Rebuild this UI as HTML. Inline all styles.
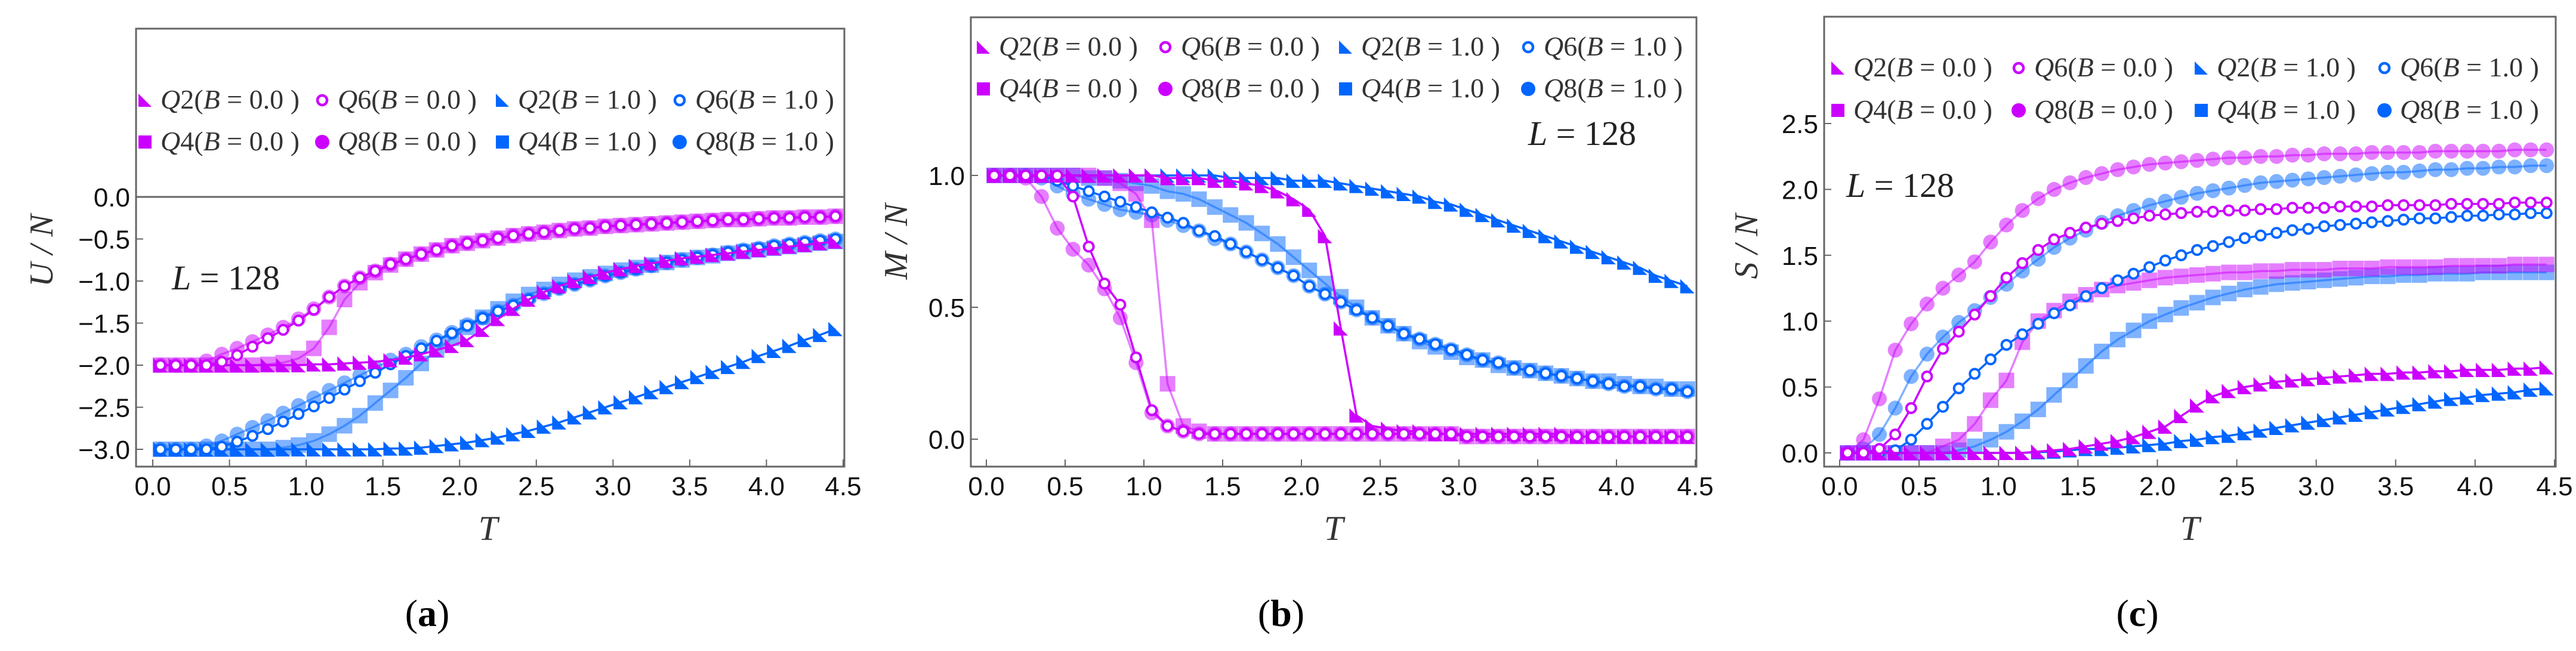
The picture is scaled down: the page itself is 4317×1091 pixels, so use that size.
<!DOCTYPE html>
<html><head><meta charset="utf-8">
<style>
html,body{margin:0;padding:0;background:#fff;}
svg{display:block;}
text{font-family:"Liberation Serif",serif;}
.tick{font-family:"Liberation Sans",sans-serif;font-size:44px;fill:#111;}
</style></head>
<body>
<svg id="fig" width="4317" height="1091" viewBox="0 0 4317 1091" xmlns="http://www.w3.org/2000/svg"></svg>
<script>
// Temperature grid
const T = [0.05,0.15,0.25,0.35,0.45,0.55,0.65,0.75,0.85,0.95,1.05,1.15,1.25,1.35,1.45,1.55,1.65,1.75,1.85,1.95,2.05,2.15,2.25,2.35,2.45,2.55,2.65,2.75,2.85,2.95,3.05,3.15,3.25,3.35,3.45,3.55,3.65,3.75,3.85,3.95,4.05,4.15,4.25,4.35,4.45];
const xTicks = [0.0,0.5,1.0,1.5,2.0,2.5,3.0,3.5,4.0,4.5];
const xTickLabels = ["0.0","0.5","1.0","1.5","2.0","2.5","3.0","3.5","4.0","4.5"];
// Panel (a) U/N
const aYTicks = [0.0,-0.5,-1.0,-1.5,-2.0,-2.5,-3.0];
const aYTickLabels = ["0.0","-0.5","-1.0","-1.5","-2.0","-2.5","-3.0"];
const aQ2B0 = [-2.00,-2.00,-2.00,-2.00,-2.00,-2.00,-2.00,-2.00,-2.00,-2.00,-1.99,-1.99,-1.98,-1.97,-1.96,-1.94,-1.91,-1.87,-1.82,-1.77,-1.70,-1.58,-1.45,-1.33,-1.22,-1.13,-1.06,-1.00,-0.95,-0.90,-0.86,-0.82,-0.79,-0.76,-0.73,-0.71,-0.69,-0.67,-0.65,-0.63,-0.61,-0.59,-0.57,-0.55,-0.53];
const aQ4B0 = [-2.00,-2.00,-2.00,-2.00,-2.00,-2.00,-2.00,-1.99,-1.97,-1.92,-1.80,-1.55,-1.22,-1.02,-0.90,-0.81,-0.74,-0.68,-0.63,-0.58,-0.55,-0.52,-0.49,-0.46,-0.44,-0.42,-0.40,-0.38,-0.37,-0.35,-0.34,-0.33,-0.32,-0.31,-0.30,-0.29,-0.28,-0.27,-0.27,-0.26,-0.25,-0.25,-0.24,-0.24,-0.23];
const aQ6B0 = [-2.00,-2.00,-2.00,-2.00,-1.96,-1.88,-1.78,-1.68,-1.58,-1.47,-1.34,-1.19,-1.06,-0.96,-0.88,-0.80,-0.74,-0.68,-0.63,-0.58,-0.55,-0.52,-0.49,-0.46,-0.44,-0.42,-0.40,-0.38,-0.37,-0.35,-0.34,-0.33,-0.32,-0.31,-0.30,-0.29,-0.28,-0.27,-0.27,-0.26,-0.25,-0.25,-0.24,-0.24,-0.23];
const aQ8B0 = [-2.00,-2.00,-2.00,-1.95,-1.87,-1.80,-1.72,-1.64,-1.55,-1.45,-1.33,-1.19,-1.06,-0.96,-0.88,-0.80,-0.74,-0.68,-0.63,-0.58,-0.55,-0.52,-0.49,-0.46,-0.44,-0.42,-0.40,-0.38,-0.37,-0.35,-0.34,-0.33,-0.32,-0.31,-0.30,-0.29,-0.28,-0.27,-0.27,-0.26,-0.25,-0.25,-0.24,-0.24,-0.23];
const aQ2B1 = [-3.00,-3.00,-3.00,-3.00,-3.00,-3.00,-3.00,-3.00,-3.00,-3.00,-3.00,-3.00,-3.00,-3.00,-3.00,-2.99,-2.99,-2.98,-2.96,-2.94,-2.92,-2.89,-2.86,-2.82,-2.78,-2.73,-2.68,-2.62,-2.56,-2.50,-2.44,-2.38,-2.32,-2.26,-2.20,-2.14,-2.08,-2.02,-1.96,-1.89,-1.83,-1.77,-1.70,-1.64,-1.57];
const aQ4B1 = [-3.00,-3.00,-3.00,-3.00,-3.00,-3.00,-3.00,-3.00,-2.98,-2.95,-2.90,-2.82,-2.72,-2.60,-2.45,-2.30,-2.15,-1.98,-1.82,-1.68,-1.55,-1.43,-1.33,-1.24,-1.16,-1.10,-1.04,-0.99,-0.95,-0.91,-0.87,-0.84,-0.81,-0.78,-0.75,-0.72,-0.70,-0.67,-0.65,-0.63,-0.61,-0.59,-0.57,-0.55,-0.53];
const aQ6B1 = [-3.00,-3.00,-3.00,-3.00,-2.97,-2.91,-2.84,-2.76,-2.67,-2.58,-2.49,-2.39,-2.29,-2.19,-2.09,-1.99,-1.89,-1.80,-1.71,-1.62,-1.53,-1.44,-1.36,-1.29,-1.22,-1.15,-1.09,-1.04,-0.99,-0.94,-0.90,-0.86,-0.82,-0.78,-0.75,-0.72,-0.69,-0.66,-0.63,-0.61,-0.58,-0.56,-0.54,-0.52,-0.50];
const aQ8B1 = [-3.00,-3.00,-3.00,-2.96,-2.90,-2.82,-2.74,-2.66,-2.57,-2.48,-2.39,-2.30,-2.21,-2.12,-2.03,-1.94,-1.87,-1.78,-1.70,-1.61,-1.52,-1.44,-1.36,-1.29,-1.22,-1.15,-1.09,-1.04,-0.99,-0.94,-0.90,-0.86,-0.82,-0.78,-0.75,-0.72,-0.69,-0.66,-0.63,-0.61,-0.58,-0.56,-0.54,-0.52,-0.50];
// Panel (b) M/N
const bYTicks = [0.0,0.5,1.0];
const bYTickLabels = ["0.0","0.5","1.0"];
const bQ2B0 = [1.00,1.00,1.00,1.00,1.00,1.00,1.00,1.00,1.00,1.00,1.00,0.99,0.99,0.99,0.98,0.98,0.97,0.96,0.94,0.91,0.87,0.77,0.42,0.09,0.05,0.04,0.03,0.03,0.02,0.02,0.02,0.02,0.02,0.02,0.02,0.02,0.02,0.01,0.01,0.01,0.01,0.01,0.01,0.01,0.01];
const bQ4B0 = [1.00,1.00,1.00,1.00,1.00,1.00,1.00,0.99,0.97,0.93,0.83,0.21,0.05,0.03,0.02,0.02,0.02,0.02,0.02,0.02,0.02,0.02,0.02,0.02,0.02,0.02,0.02,0.02,0.02,0.02,0.01,0.01,0.01,0.01,0.01,0.01,0.01,0.01,0.01,0.01,0.01,0.01,0.01,0.01,0.01];
const bQ6B0 = [1.00,1.00,1.00,1.00,1.00,0.92,0.73,0.59,0.51,0.31,0.11,0.05,0.03,0.02,0.02,0.02,0.02,0.02,0.02,0.02,0.02,0.02,0.02,0.02,0.02,0.02,0.02,0.02,0.02,0.02,0.01,0.01,0.01,0.01,0.01,0.01,0.01,0.01,0.01,0.01,0.01,0.01,0.01,0.01,0.01];
const bQ8B0 = [1.00,1.00,0.99,0.92,0.80,0.72,0.66,0.57,0.46,0.29,0.10,0.05,0.03,0.02,0.02,0.02,0.02,0.02,0.02,0.02,0.02,0.02,0.02,0.02,0.02,0.02,0.02,0.02,0.02,0.02,0.01,0.01,0.01,0.01,0.01,0.01,0.01,0.01,0.01,0.01,0.01,0.01,0.01,0.01,0.01];
const bQ2B1 = [1.00,1.00,1.00,1.00,1.00,1.00,1.00,1.00,1.00,1.00,1.00,1.00,1.00,1.00,1.00,0.99,0.99,0.99,0.99,0.98,0.98,0.98,0.97,0.96,0.95,0.94,0.93,0.92,0.90,0.89,0.87,0.85,0.83,0.81,0.79,0.77,0.75,0.73,0.71,0.69,0.67,0.65,0.62,0.60,0.58];
const bQ4B1 = [1.00,1.00,1.00,1.00,1.00,1.00,0.99,0.99,0.98,0.97,0.96,0.94,0.93,0.91,0.88,0.85,0.82,0.78,0.74,0.69,0.64,0.59,0.54,0.50,0.46,0.43,0.40,0.37,0.35,0.33,0.31,0.30,0.28,0.27,0.26,0.25,0.24,0.23,0.22,0.22,0.21,0.20,0.20,0.19,0.19];
const bQ6B1 = [1.00,1.00,1.00,1.00,0.98,0.96,0.94,0.92,0.90,0.88,0.86,0.84,0.82,0.79,0.77,0.74,0.71,0.68,0.65,0.62,0.58,0.55,0.52,0.49,0.46,0.43,0.40,0.38,0.36,0.34,0.32,0.30,0.29,0.27,0.26,0.25,0.24,0.23,0.22,0.21,0.20,0.20,0.19,0.19,0.18];
const bQ8B1 = [1.00,1.00,1.00,0.99,0.96,0.93,0.91,0.89,0.87,0.86,0.85,0.83,0.81,0.79,0.76,0.74,0.71,0.68,0.65,0.62,0.58,0.55,0.52,0.49,0.46,0.43,0.40,0.38,0.36,0.34,0.32,0.30,0.29,0.27,0.26,0.25,0.24,0.23,0.22,0.21,0.20,0.20,0.19,0.19,0.18];
// Panel (c) S/N
const cYTicks = [0.0,0.5,1.0,1.5,2.0,2.5];
const cYTickLabels = ["0.0","0.5","1.0","1.5","2.0","2.5"];
const cQ2B0 = [0,0,0,0,0,0,0,0,0,0,0,0,0.01,0.02,0.03,0.05,0.07,0.09,0.12,0.16,0.20,0.28,0.36,0.43,0.47,0.50,0.52,0.54,0.55,0.56,0.57,0.58,0.59,0.60,0.60,0.61,0.61,0.62,0.62,0.63,0.63,0.63,0.64,0.64,0.65];
const cQ4B0 = [0,0,0,0,0,0,0.05,0.10,0.22,0.40,0.55,0.84,1.00,1.08,1.15,1.20,1.24,1.27,1.29,1.31,1.33,1.34,1.35,1.36,1.37,1.37,1.38,1.38,1.39,1.39,1.39,1.40,1.40,1.40,1.41,1.41,1.41,1.41,1.42,1.42,1.42,1.42,1.43,1.43,1.43];
const cQ6B0 = [0,0,0.03,0.14,0.34,0.58,0.79,0.92,1.05,1.19,1.33,1.44,1.54,1.62,1.67,1.71,1.74,1.76,1.78,1.80,1.81,1.82,1.83,1.83,1.84,1.84,1.85,1.85,1.86,1.86,1.86,1.87,1.87,1.87,1.88,1.88,1.88,1.88,1.89,1.89,1.89,1.89,1.90,1.90,1.90];
const cQ8B0 = [0,0.10,0.41,0.78,0.98,1.13,1.25,1.35,1.45,1.60,1.73,1.84,1.93,2.00,2.05,2.09,2.12,2.15,2.17,2.19,2.20,2.21,2.22,2.23,2.24,2.24,2.25,2.25,2.26,2.26,2.27,2.27,2.27,2.28,2.28,2.28,2.28,2.29,2.29,2.29,2.29,2.29,2.30,2.30,2.30];
const cQ2B1 = [0,0,0,0,0,0,0,0,0,0,0,0,0.005,0.01,0.02,0.03,0.03,0.04,0.05,0.06,0.07,0.09,0.10,0.12,0.13,0.15,0.17,0.19,0.21,0.23,0.25,0.27,0.29,0.31,0.33,0.35,0.37,0.39,0.41,0.42,0.44,0.45,0.46,0.48,0.49];
const cQ4B1 = [0,0,0,0,0,0,0,0.02,0.05,0.10,0.16,0.24,0.33,0.44,0.55,0.66,0.77,0.86,0.93,1.00,1.05,1.10,1.14,1.18,1.21,1.24,1.26,1.28,1.29,1.30,1.31,1.32,1.33,1.34,1.34,1.35,1.35,1.36,1.36,1.36,1.37,1.37,1.37,1.37,1.37];
const cQ6B1 = [0,0,0,0.02,0.10,0.22,0.35,0.49,0.60,0.71,0.82,0.90,0.98,1.06,1.12,1.19,1.25,1.31,1.36,1.41,1.46,1.50,1.54,1.57,1.60,1.63,1.65,1.67,1.69,1.70,1.72,1.73,1.74,1.75,1.76,1.77,1.78,1.78,1.79,1.80,1.80,1.81,1.81,1.82,1.82];
const cQ8B1 = [0,0.03,0.14,0.34,0.58,0.75,0.88,0.99,1.08,1.18,1.28,1.38,1.47,1.56,1.63,1.69,1.75,1.80,1.84,1.88,1.91,1.94,1.97,1.99,2.01,2.03,2.05,2.06,2.07,2.08,2.09,2.10,2.11,2.12,2.13,2.13,2.14,2.15,2.15,2.16,2.16,2.17,2.17,2.18,2.18];

const legendLabels = ["Q2","Q6","Q2","Q6","Q4","Q8","Q4","Q8"];
const legendB = ["0.0","0.0","1.0","1.0","0.0","0.0","1.0","1.0"];

const NS = "http://www.w3.org/2000/svg";
const svg = document.getElementById('fig');
const MAG = "#cc00ff", BLU = "#0066ff", AXC = "#666";

function mk(tag, attrs, parent){
  const e = document.createElementNS(NS, tag);
  for (const k in attrs) e.setAttribute(k, attrs[k]);
  (parent||svg).appendChild(e);
  return e;
}

function marker(g, kind, cx, cy, color, light){
  let e;
  const op = light ? 0.5 : 1;
  if (kind === 'tri'){
    const s = 12;
    e = mk('polygon', {points:`${cx-s},${cy-s} ${cx-s},${cy+s} ${cx+s},${cy+s}`, fill:color, 'fill-opacity':op}, g);
  } else if (kind === 'sq'){
    const s = 13;
    e = mk('rect', {x:cx-s, y:cy-s, width:2*s, height:2*s, fill:color, 'fill-opacity':op}, g);
  } else if (kind === 'open'){
    e = mk('circle', {cx:cx, cy:cy, r:8, fill:'#fff', stroke:color, 'stroke-width':4}, g);
  } else {
    e = mk('circle', {cx:cx, cy:cy, r:12.5, fill:color, 'fill-opacity':op}, g);
  }
  return e;
}

function panel(p){
  const g = mk('g', {});
  
  
  const xs = v => p.x0 + (v/4.5)*(p.x45 - p.x0);
  const ys = v => p.yz - v*p.yu;
  // frame
  const fr = mk('rect', {x:p.fl, y:p.ft, width:p.fr-p.fl, height:p.fb-p.ft, fill:'none', stroke:AXC, 'stroke-width':3}, g);
  
  
  if (p.zeroLine){
    const zl = mk('line', {x1:p.fl, x2:p.fr, y1:ys(0), y2:ys(0), stroke:AXC, 'stroke-width':3}, g);
    
    
  }
  // x ticks
  xTicks.forEach((t,i)=>{
    mk('line', {x1:xs(t), x2:xs(t), y1:p.fb, y2:p.fb-12, stroke:AXC, 'stroke-width':2}, g);
    const tx = mk('text', {x:xs(t), y:p.fb+48, 'text-anchor':'middle', class:'tick'}, g);
    tx.textContent = xTickLabels[i];
    
    
  });
  p.yt.forEach((t,i)=>{
    mk('line', {x1:p.fl, x2:p.fl+12, y1:ys(t), y2:ys(t), stroke:AXC, 'stroke-width':2}, g);
    const tx = mk('text', {x:p.fl-10, y:ys(t)+16, 'text-anchor':'end', class:'tick'}, g);
    tx.textContent = p.ytl[i].replace('-', '\u2212');
    
    
  });
  // series: draw light first
  const order = [
    {d:p.s.Q4B1, k:'sq', c:BLU, l:true, n:'q4-b1'},
    {d:p.s.Q8B1, k:'dot', c:BLU, l:true, n:'q8-b1'},
    {d:p.s.Q4B0, k:'sq', c:MAG, l:true, n:'q4-b0'},
    {d:p.s.Q8B0, k:'dot', c:MAG, l:true, n:'q8-b0'},
    {d:p.s.Q2B1, k:'tri', c:BLU, l:false, n:'q2-b1'},
    {d:p.s.Q6B1, k:'open', c:BLU, l:false, n:'q6-b1'},
    {d:p.s.Q2B0, k:'tri', c:MAG, l:false, n:'q2-b0'},
    {d:p.s.Q6B0, k:'open', c:MAG, l:false, n:'q6-b0'}
  ];
  order.forEach(s=>{
    const sg = mk('g', {}, g);
    
    
    const pts = T.map((t,i)=>`${xs(t)},${ys(s.d[i])}`).join(' ');
    mk('polyline', {points:pts, fill:'none', stroke:s.c, 'stroke-width':3.5, 'stroke-opacity':s.l?0.5:1}, sg);
    T.forEach((t,i)=>{
      const m = marker(sg, s.k, xs(t), ys(s.d[i]), s.c, s.l);
      
      
    });
  });
  // legend
  const kinds = ['tri','open','tri','open','sq','dot','sq','dot'];
  const cols = [MAG,MAG,BLU,BLU,MAG,MAG,BLU,BLU];
  legendLabels.forEach((lab,i)=>{
    const row = i<4?0:1, col = i%4;
    const lx = p.lx[col], ly = p.ly[row];
    const lg = mk('g', {}, g);
    
    
    const mx = lx + 12, my = ly - 14;
    if (kinds[i]==='open') mk('circle', {cx:mx, cy:my, r:8, fill:'#fff', stroke:cols[i], 'stroke-width':4.5}, lg);
    else if (kinds[i]==='dot') mk('circle', {cx:mx, cy:my, r:12, fill:cols[i]}, lg);
    else if (kinds[i]==='sq') mk('rect', {x:mx-11, y:my-11, width:22, height:22, fill:cols[i]}, lg);
    else mk('polygon', {points:`${mx-11},${my-11} ${mx-11},${my+11} ${mx+11},${my+11}`, fill:cols[i]}, lg);
    const tx = mk('text', {x:lx+38, y:ly, 'font-size':46, fill:'#333'}, lg);
    const a = mk('tspan', {'font-style':'italic'}, tx); a.textContent = lab[0];
    const b = mk('tspan', {}, tx); b.textContent = lab[1] + '(';
    const c = mk('tspan', {'font-style':'italic'}, tx); c.textContent = 'B';
    const d = mk('tspan', {}, tx); d.textContent = ' = ' + legendB[i] + '  )';
  });
  // L = 128
  const L = mk('text', {x:p.Lx, y:p.Ly, 'font-size':58, fill:'#222'}, g);
  
  
  const l1 = mk('tspan', {'font-style':'italic'}, L); l1.textContent = 'L';
  const l2 = mk('tspan', {}, L); l2.textContent = ' = 128';
  // axis titles
  const yt = mk('text', {x:0, y:0, 'font-size':56, 'font-style':'italic', 'text-anchor':'middle', fill:'#333', transform:`translate(${p.ytx},${p.yty}) rotate(-90)`}, g);
  yt.textContent = p.ytitle;
  
  
  const xt = mk('text', {x:p.xtx, y:905, 'font-size':58, 'font-style':'italic', 'text-anchor':'middle', fill:'#333'}, g);
  xt.textContent = 'T';
  
  
  const cap = mk('text', {x:p.capx, y:1049, 'font-size':64, 'text-anchor':'middle', fill:'#000'}, g);
  
  
  const c1 = mk('tspan', {}, cap); c1.textContent = '(';
  const c2 = mk('tspan', {'font-weight':'bold'}, cap); c2.textContent = p.cap;
  const c3 = mk('tspan', {}, cap); c3.textContent = ')';
}

panel({name:'panel-a-energy', x0:256, x45:1413, yz:330, yu:141, fl:228, fr:1415, ft:48, fb:782, zeroLine:true,
  yt:aYTicks, ytl:aYTickLabels,
  s:{Q2B0:aQ2B0,Q4B0:aQ4B0,Q6B0:aQ6B0,Q8B0:aQ8B0,Q2B1:aQ2B1,Q4B1:aQ4B1,Q6B1:aQ6B1,Q8B1:aQ8B1},
  lx:[231,528,830,1127], ly:[182,252], Lx:288, Ly:485, ytitle:'U / N', ytx:88, yty:420, xtx:818, capx:716, cap:'a'});
panel({name:'panel-b-magnetization', x0:1653, x45:2841, yz:736, yu:442, fl:1627, fr:2843, ft:29, fb:782, zeroLine:false,
  yt:bYTicks, ytl:bYTickLabels,
  s:{Q2B0:bQ2B0,Q4B0:bQ4B0,Q6B0:bQ6B0,Q8B0:bQ8B0,Q2B1:bQ2B1,Q4B1:bQ4B1,Q6B1:bQ6B1,Q8B1:bQ8B1},
  lx:[1636,1941,2243,2549], ly:[93,163], Lx:2561, Ly:243, ytitle:'M / N', ytx:1520, yty:405, xtx:2235, capx:2147, cap:'b'});
panel({name:'panel-c-entropy', x0:3083, x45:4281, yz:759, yu:220.8, fl:3057, fr:4283, ft:28, fb:782, zeroLine:false,
  yt:cYTicks, ytl:cYTickLabels,
  s:{Q2B0:cQ2B0,Q4B0:cQ4B0,Q6B0:cQ6B0,Q8B0:cQ8B0,Q2B1:cQ2B1,Q4B1:cQ4B1,Q6B1:cQ6B1,Q8B1:cQ8B1},
  lx:[3068,3371,3677,3984], ly:[128,199], Lx:3094, Ly:330, ytitle:'S / N', ytx:2945, yty:413, xtx:3670, capx:3582, cap:'c'});
</script>
</body></html>
